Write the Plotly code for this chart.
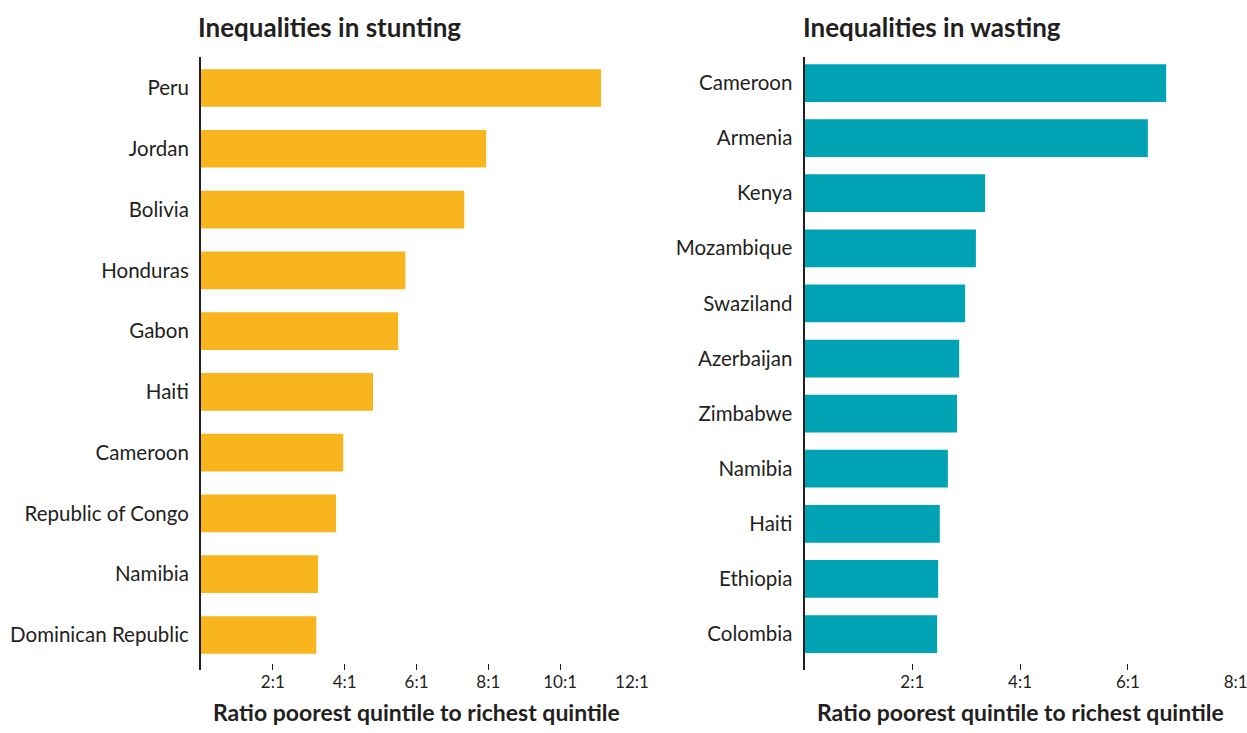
import plotly.graph_objects as go

stunting_countries = ["Peru", "Jordan", "Bolivia", "Honduras", "Gabon", "Haiti",
                      "Cameroon", "Republic of Congo", "Namibia", "Dominican Republic"]
stunting_values = [11.14, 7.94, 7.33, 5.69, 5.49, 4.79, 3.96, 3.76, 3.26, 3.21]

wasting_countries = ["Cameroon", "Armenia", "Kenya", "Mozambique", "Swaziland", "Azerbaijan",
                     "Zimbabwe", "Namibia", "Haiti", "Ethiopia", "Colombia"]
wasting_values = [6.71, 6.37, 3.35, 3.18, 2.98, 2.87, 2.83, 2.66, 2.51, 2.48, 2.46]

stunting_ticks = [2, 4, 6, 8, 10, 12]
stunting_ticktext = ["2:1", "4:1", "6:1", "8:1", "10:1", "12:1"]
wasting_ticks = [2, 4, 6, 8]
wasting_ticktext = ["2:1", "4:1", "6:1", "8:1"]

titles = ["Inequalities in stunting", "Inequalities in wasting"]
axis_title = "Ratio poorest quintile to richest quintile"

W, H = 1247, 733
DARK = "#231f20"
FONT = "Lato"


def px_x(p):
    return p / W


def px_y(p):
    return 1 - p / H


fig = go.Figure()
fig.add_trace(go.Bar(x=stunting_values, y=stunting_countries, orientation="h",
                     marker=dict(color="#f9b51d", line=dict(width=0)),
                     xaxis="x", yaxis="y", width=0.62, hoverinfo="x+y"))
fig.add_trace(go.Bar(x=wasting_values, y=wasting_countries, orientation="h",
                     marker=dict(color="#00a3b4", line=dict(width=0)),
                     xaxis="x2", yaxis="y2", width=0.685, hoverinfo="x+y"))


def xax(domain, rng, tv, tt, anchor):
    return dict(domain=domain, range=rng, tickvals=tv, ticktext=tt, anchor=anchor,
                showgrid=False, zeroline=False, showline=False, automargin=False,
                ticks="inside", ticklen=6, tickwidth=1, tickcolor=DARK,
                ticklabeloverflow="allow",
                tickfont=dict(family=FONT, size=17, color=DARK),
                fixedrange=True)


def yax(rng, cats, anchor):
    return dict(domain=[px_y(670), px_y(56.5)], range=rng, type="category",
                categoryorder="array", categoryarray=cats, anchor=anchor,
                showgrid=False, zeroline=False, automargin=False,
                showline=True, linewidth=2, linecolor=DARK, ticks="", ticklabelstandoff=6,
                tickfont=dict(family=FONT, size=20.5, color=DARK), fixedrange=True)


dom1 = [px_x(201), px_x(632)]
dom2 = [px_x(804.5), px_x(1235.7)]

ann = []
for t, xp in zip(titles, [196, 801]):
    ann.append(dict(text=t, x=px_x(xp), y=px_y(27), xref="paper", yref="paper",
                    xanchor="left", yanchor="middle", showarrow=False,
                    font=dict(family=FONT, size=26, color=DARK, weight="bold")))
for d in [dom1, dom2]:
    ann.append(dict(text=axis_title, x=(d[0] + d[1]) / 2, y=px_y(712),
                    xref="paper", yref="paper", xanchor="center", yanchor="middle",
                    showarrow=False,
                    font=dict(family=FONT, size=23, color=DARK, weight="bold")))

fig.update_layout(
    template="none",
    width=W, height=H, margin=dict(l=0, r=0, t=0, b=0, autoexpand=False),
    paper_bgcolor="white", plot_bgcolor="white", showlegend=False,
    xaxis=xax(dom1, [0, 12], stunting_ticks, stunting_ticktext, "y"),
    yaxis=yax([9.576, -0.518], stunting_countries, "x"),
    xaxis2=xax(dom2, [0, 8], wasting_ticks, wasting_ticktext, "y2"),
    yaxis2=yax([10.653, -0.481], wasting_countries, "x2"),
    annotations=ann,
)

# Remove the browser's default page margin so the figure fills the window exactly.
fig.write_html("out.html", config={"displayModeBar": False},
               post_script="document.body.style.margin='0';document.body.style.overflow='hidden';")
